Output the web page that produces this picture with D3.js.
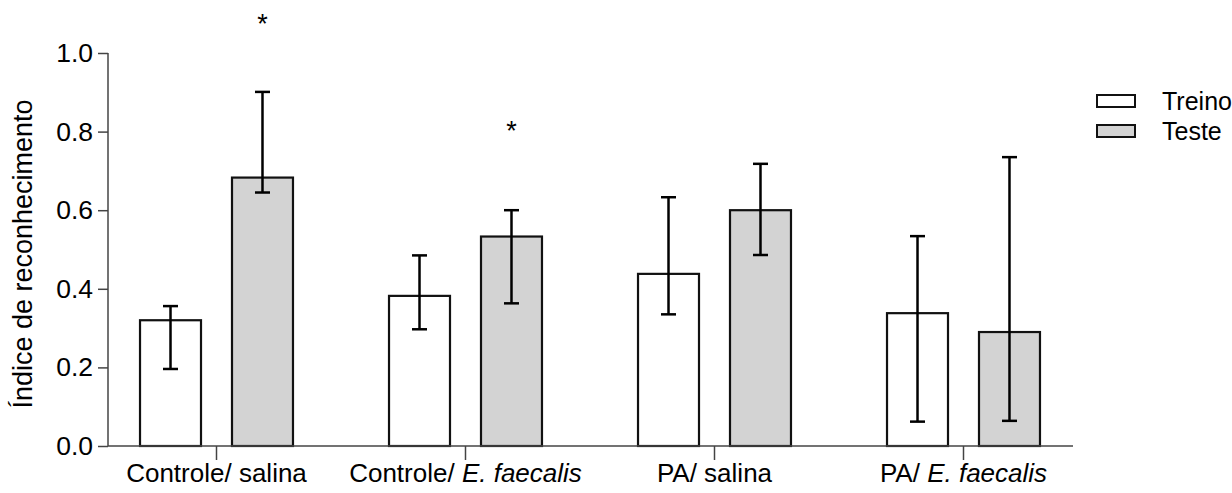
<!DOCTYPE html>
<html>
<head>
<meta charset="utf-8">
<script src="https://cdn.jsdelivr.net/npm/d3@7"></script>
<style>
  body { margin: 0; background: #fff; }
  svg text { font-family: "Liberation Sans", Arial, sans-serif; }
</style>
</head>
<body>
<svg id="chart" width="1232" height="493"></svg>
<script>
// data
var groups = ["Controle/ salina", "Controle/ E. faecalis", "PA/ salina", "PA/ E. faecalis"];
var series = ["Treino", "Teste"];
var treino = [0.320, 0.382, 0.438, 0.338];
var treinoUpper = [0.356, 0.485, 0.633, 0.534];
var treinoLower = [0.196, 0.297, 0.335, 0.062];
var teste = [0.683, 0.533, 0.600, 0.290];
var testeUpper = [0.901, 0.600, 0.718, 0.735];
var testeLower = [0.645, 0.363, 0.486, 0.064];
var sigLevel = [1.084, 0.812, null, null]; // asterisk above Teste bar
var yTicks = [0, 0.2, 0.4, 0.6, 0.8, 1.0];

var colors = { "Treino": "#ffffff", "Teste": "#d3d3d3" };

var svg = d3.select("#chart");
var axisLeftX = 108, axisRightX = 1073;
var y0 = 446, y1 = 53;

var ys = d3.scaleLinear().domain([0, 1]).range([y0, y1]);

var xs = d3.scaleBand()
  .domain(groups)
  .range([92, 92 + 249 * groups.length])
  .padding(0);

var xin = d3.scaleBand()
  .domain(series)
  .range([0, xs.bandwidth()])
  .paddingInner(0.337)
  .paddingOuter(0.522);

// build rows
var rows = [];
groups.forEach(function (g, i) {
  rows.push({ group: g, s: "Treino", v: treino[i], hi: treinoUpper[i], lo: treinoLower[i] });
  rows.push({ group: g, s: "Teste", v: teste[i], hi: testeUpper[i], lo: testeLower[i] });
});

// bars
svg.append("g")
  .selectAll("rect")
  .data(rows)
  .enter()
  .append("rect")
  .attr("x", function (d) { return xs(d.group) + xin(d.s); })
  .attr("y", function (d) { return ys(d.v); })
  .attr("width", xin.bandwidth())
  .attr("height", function (d) { return ys(0) - ys(d.v); })
  .attr("fill", function (d) { return colors[d.s]; })
  .attr("stroke", "#111")
  .attr("stroke-width", 2.2);

// error bars
var eb = svg.append("g")
  .selectAll("g")
  .data(rows)
  .enter()
  .append("g")
  .attr("stroke", "#000")
  .attr("stroke-width", 2.5);

function cx(d) { return xs(d.group) + xin(d.s) + xin.bandwidth() / 2; }

eb.append("line")
  .attr("x1", cx).attr("x2", cx)
  .attr("y1", function (d) { return ys(d.lo); })
  .attr("y2", function (d) { return ys(d.hi); });
eb.append("line")
  .attr("x1", function (d) { return cx(d) - 7.5; })
  .attr("x2", function (d) { return cx(d) + 7.5; })
  .attr("y1", function (d) { return ys(d.hi); })
  .attr("y2", function (d) { return ys(d.hi); });
eb.append("line")
  .attr("x1", function (d) { return cx(d) - 7.5; })
  .attr("x2", function (d) { return cx(d) + 7.5; })
  .attr("y1", function (d) { return ys(d.lo); })
  .attr("y2", function (d) { return ys(d.lo); });

// asterisks
svg.append("g")
  .selectAll("text")
  .data(groups.map(function (g, i) { return { group: g, lvl: sigLevel[i] }; })
    .filter(function (d) { return d.lvl != null; }))
  .enter()
  .append("text")
  .attr("x", function (d) { return xs(d.group) + xin("Teste") + xin.bandwidth() / 2; })
  .attr("y", function (d) { return ys(d.lvl) + 13; })
  .attr("text-anchor", "middle")
  .style("font-size", "27px")
  .text("*");

// y axis
var yAxis = svg.append("g")
  .attr("transform", "translate(" + axisLeftX + ",0)")
  .call(d3.axisLeft(ys).tickValues(yTicks).tickSize(10).tickPadding(5).tickFormat(d3.format(".1f")));
yAxis.select(".domain").attr("stroke", "#444").attr("stroke-width", 1.5)
  .attr("d", "M0," + y0 + "V" + y1);
yAxis.selectAll(".tick line").attr("stroke", "#444").attr("stroke-width", 1.5);
yAxis.selectAll(".tick text").style("font-size", "26.5px").attr("fill", "#000")
  .style("font-family", "'Liberation Sans', Arial, sans-serif");

// x axis
var xAxis = svg.append("g")
  .attr("transform", "translate(0," + y0 + ")")
  .call(d3.axisBottom(xs).tickSize(14).tickPadding(6).tickFormat(""));
xAxis.select(".domain").attr("stroke", "#444").attr("stroke-width", 1.5)
  .attr("d", "M" + axisLeftX + ",0H" + axisRightX);
xAxis.selectAll(".tick line").attr("stroke", "#444").attr("stroke-width", 1.5);

// x labels with italic species name
var lab = svg.append("g")
  .selectAll("text")
  .data(groups)
  .enter()
  .append("text")
  .attr("x", function (d) { return xs(d) + xs.bandwidth() / 2; })
  .attr("y", 482)
  .attr("text-anchor", "middle")
  .style("font-size", "26px");
lab.each(function (d) {
  var t = d3.select(this);
  var k = d.indexOf("E. faecalis");
  if (k >= 0) {
    t.append("tspan").text(d.slice(0, k));
    t.append("tspan").style("font-style", "italic").text("E. faecalis");
  } else {
    t.text(d);
  }
});

// y title
svg.append("text")
  .attr("transform", "translate(32," + 254 + ") rotate(-90)")
  .attr("text-anchor", "middle")
  .style("font-size", "27px")
  .text("Índice de reconhecimento");

// legend
var leg = svg.append("g")
  .selectAll("g")
  .data(series)
  .enter()
  .append("g")
  .attr("transform", function (d, i) { return "translate(1097," + (101 + i * 30) + ")"; });
leg.append("rect")
  .attr("x", 0).attr("y", -6)
  .attr("width", 38).attr("height", 12)
  .attr("fill", function (d) { return colors[d]; })
  .attr("stroke", "#111")
  .attr("stroke-width", 2);
leg.append("text")
  .attr("x", 65).attr("y", 9)
  .style("font-size", "25px")
  .text(function (d) { return d; });
</script>
</body>
</html>
